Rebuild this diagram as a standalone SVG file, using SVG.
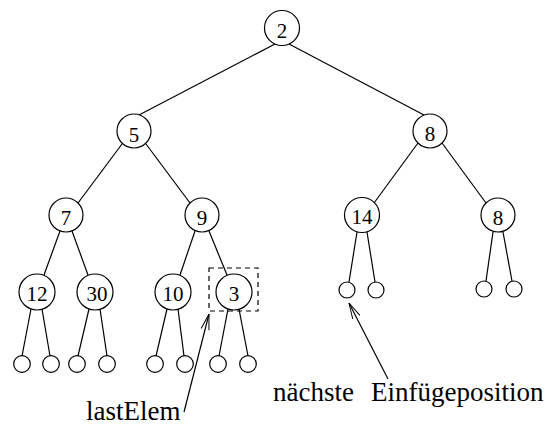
<svg xmlns="http://www.w3.org/2000/svg" width="549" height="430" viewBox="0 0 549 430">
  <style>
    .node { fill: #fff; stroke: #000; stroke-width: 1.2; }
    .leaf { fill: #fff; stroke: #000; stroke-width: 1.2; }
    .lbl { font-family: "Liberation Serif", "Times New Roman", serif; font-size: 21px; text-anchor: middle; fill: #000; }
    .note { font-family: "Liberation Serif", "Times New Roman", serif; font-size: 27px; fill: #000; }
    .edge { stroke: #000; stroke-width: 1.2; fill: none; }
    .ptr { stroke: #000; stroke-width: 1.2; fill: none; }
    .mark { stroke: #000; stroke-width: 1.2; fill: none; stroke-dasharray: 5 4; }
  </style>
  <defs>
    <marker id="openArrow" viewBox="0 0 16 10" refX="16" refY="5" markerWidth="16" markerHeight="10" markerUnits="userSpaceOnUse" orient="auto">
      <path d="M0,1 L16,5 L0,9" fill="none" stroke="#000" stroke-width="1"/>
    </marker>
  </defs>

  <g id="connectors">
    <line class="edge" x1="275" y1="44" x2="139" y2="115"/>
    <line class="edge" x1="289" y1="44" x2="424" y2="115"/>
    <line class="edge" x1="122" y1="144" x2="78" y2="203"/>
    <line class="edge" x1="146" y1="144" x2="190" y2="203"/>
    <line class="edge" x1="418" y1="143" x2="374" y2="203"/>
    <line class="edge" x1="442" y1="143" x2="486" y2="203"/>
    <line class="edge" x1="60" y1="231" x2="44" y2="275"/>
    <line class="edge" x1="72" y1="231" x2="88" y2="275"/>
    <line class="edge" x1="195" y1="231" x2="180" y2="275"/>
    <line class="edge" x1="209" y1="231" x2="227" y2="275"/>
    <line class="edge" x1="31" y1="309" x2="22" y2="356"/>
    <line class="edge" x1="42" y1="309" x2="50" y2="356"/>
    <line class="edge" x1="89" y1="309" x2="78" y2="356"/>
    <line class="edge" x1="100" y1="309" x2="107" y2="356"/>
    <line class="edge" x1="167" y1="309" x2="156" y2="356"/>
    <line class="edge" x1="178" y1="309" x2="184" y2="356"/>
    <line class="edge" x1="228" y1="309" x2="219" y2="356"/>
    <line class="edge" x1="239" y1="309" x2="248" y2="356"/>
    <line class="edge" x1="357" y1="232" x2="349" y2="282"/>
    <line class="edge" x1="367" y1="232" x2="375" y2="282"/>
    <line class="edge" x1="493" y1="232" x2="486" y2="281"/>
    <line class="edge" x1="503" y1="232" x2="512" y2="281"/>
    <line class="ptr" x1="184" y1="412" x2="209" y2="314" marker-end="url(#openArrow)"/>
    <line class="ptr" x1="388" y1="379" x2="349" y2="303" marker-end="url(#openArrow)"/>
  </g>

  <g id="n2"><circle class="node" cx="282" cy="28" r="17.5"/><text class="lbl" x="282" y="38">2</text></g>
  <g id="n5"><circle class="node" cx="134" cy="131" r="17"/><text class="lbl" x="134" y="142">5</text></g>
  <g id="n8"><circle class="node" cx="430" cy="131" r="17"/><text class="lbl" x="430" y="141">8</text></g>
  <g id="n7"><circle class="node" cx="66" cy="215" r="17"/><text class="lbl" x="66" y="225">7</text></g>
  <g id="n9"><circle class="node" cx="202" cy="215" r="17"/><text class="lbl" x="202" y="225">9</text></g>
  <g id="n14"><circle class="node" cx="362" cy="215" r="17.5"/><text class="lbl" x="362" y="224">14</text></g>
  <g id="n8b"><circle class="node" cx="498" cy="215" r="17"/><text class="lbl" x="498" y="225">8</text></g>
  <g id="n12"><circle class="node" cx="37" cy="292" r="18"/><text class="lbl" x="37" y="301">12</text></g>
  <g id="n30"><circle class="node" cx="95" cy="292" r="18"/><text class="lbl" x="97" y="301">30</text></g>
  <g id="n10"><circle class="node" cx="173" cy="292" r="18"/><text class="lbl" x="173" y="301">10</text></g>
  <g id="n3"><circle class="node" cx="234" cy="292" r="18"/><text class="lbl" x="234" y="301">3</text></g>

  <g id="leaves">
    <circle class="leaf" cx="22" cy="364" r="8.3"/>
    <circle class="leaf" cx="51" cy="364" r="8.3"/>
    <circle class="leaf" cx="77" cy="364" r="8.3"/>
    <circle class="leaf" cx="107" cy="364" r="8.3"/>
    <circle class="leaf" cx="155" cy="364" r="8.3"/>
    <circle class="leaf" cx="185" cy="364" r="8.3"/>
    <circle class="leaf" cx="218" cy="364" r="8.3"/>
    <circle class="leaf" cx="248" cy="364" r="8.3"/>
    <circle class="leaf" cx="347" cy="290" r="8"/>
    <circle class="leaf" cx="376" cy="290" r="8"/>
    <circle class="leaf" cx="484" cy="289" r="8"/>
    <circle class="leaf" cx="514" cy="289" r="8"/>
  </g>

  <g id="lastElemMark">
    <rect class="mark" x="209" y="268" width="49" height="43"/>
  </g>

  <g id="labels">
    <text class="note" x="86" y="420">lastElem</text>
    <text class="note" x="273" y="401">nächste</text>
    <text class="note" x="371" y="401">Einfügeposition</text>
  </g>
</svg>
